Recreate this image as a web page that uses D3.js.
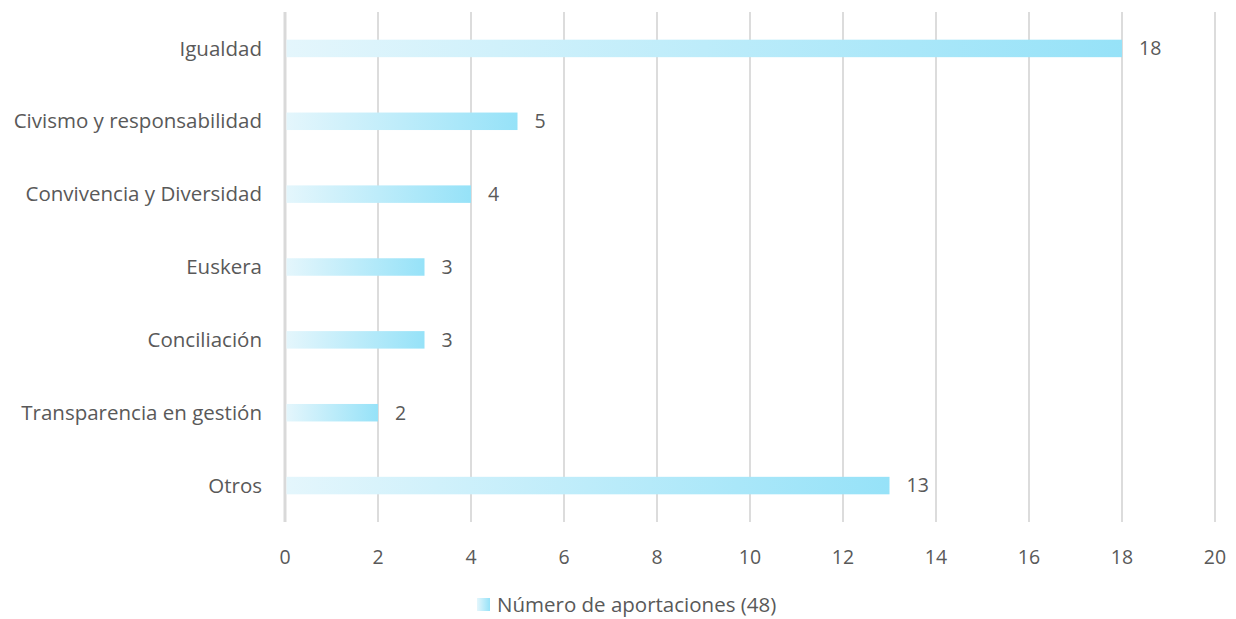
<!DOCTYPE html>
<html>
<head>
<meta charset="utf-8">
<script src="https://cdn.jsdelivr.net/npm/d3@7"></script>
<style>
  body { margin: 0; background: #fff; }
  svg text { font-family: "Open Sans", "Noto Sans", sans-serif; fill: #595959; }
</style>
</head>
<body>
<svg id="chart" width="1236" height="619"></svg>
<script>
// chart data
const categories = ['Igualdad', 'Civismo y responsabilidad', 'Convivencia y Diversidad', 'Euskera', 'Conciliación', 'Transparencia en gestión', 'Otros'];
const values = [18, 5, 4, 3, 3, 2, 13];
const xTicks = [0, 2, 4, 6, 8, 10, 12, 14, 16, 18, 20];
const seriesName = 'Número de aportaciones (48)';

const width = 1236, height = 619;
const margin = { top: 12, right: 21, bottom: 97, left: 285 };
const labelSize = 20.5;  // category + legend text
const numSize = 19.5;    // digits

const svg = d3.select('#chart');

const x = d3.scaleLinear().domain([0, 20]).range([margin.left, width - margin.right]);
const y = d3.scaleBand().domain(categories).range([margin.top, height - margin.bottom]).paddingInner(0.76).paddingOuter(0.38);

// gradient for bars (each bar gets its own left->right fade)
const defs = svg.append('defs');
const grad = defs.append('linearGradient').attr('id', 'barGrad')
  .attr('x1', '0%').attr('x2', '100%').attr('y1', '0%').attr('y2', '0%');
grad.append('stop').attr('offset', '0%').attr('stop-color', '#e4f6fc');
grad.append('stop').attr('offset', '100%').attr('stop-color', '#96e2f8');

// vertical gridlines
svg.append('g').selectAll('line')
  .data(xTicks)
  .join('line')
  .attr('x1', d => x(d)).attr('x2', d => x(d))
  .attr('y1', margin.top).attr('y2', height - margin.bottom)
  .attr('stroke', d => d === 0 ? '#d9d9d9' : '#d4d4d4')
  .attr('stroke-width', d => d === 0 ? 3 : 1.6);

// bars
svg.append('g').selectAll('rect')
  .data(values)
  .join('rect')
  .attr('x', x(0) + 1.5)
  .attr('y', (d, i) => y(categories[i]))
  .attr('width', d => x(d) - x(0) - 1.5)
  .attr('height', y.bandwidth())
  .attr('fill', 'url(#barGrad)');

// value labels
svg.append('g').selectAll('text')
  .data(values)
  .join('text')
  .attr('x', d => x(d) + 17)
  .attr('y', (d, i) => y(categories[i]) + y.bandwidth() / 2)
  .attr('dy', '0.35em')
  .attr('font-size', numSize)
  .text(d => d);

// category labels
svg.append('g').selectAll('text')
  .data(categories)
  .join('text')
  .attr('x', margin.left - 23)
  .attr('y', d => y(d) + y.bandwidth() / 2)
  .attr('dy', '0.35em')
  .attr('text-anchor', 'end')
  .attr('font-size', labelSize)
  .text(d => d);

// x tick labels
svg.append('g').selectAll('text')
  .data(xTicks)
  .join('text')
  .attr('x', d => x(d))
  .attr('y', 557)
  .attr('dy', '0.35em')
  .attr('text-anchor', 'middle')
  .attr('font-size', numSize)
  .text(d => d);

// legend (nudged up a bit so descenders stay inside the frame)
const legend = svg.append('g').attr('transform', 'translate(477,598)');
legend.append('rect').attr('width', 13).attr('height', 13).attr('fill', 'url(#barGrad)');
legend.append('text').attr('x', 20).attr('y', 6.5).attr('dy', '0.35em')
  .attr('font-size', labelSize).text(seriesName);
</script>
</body>
</html>
